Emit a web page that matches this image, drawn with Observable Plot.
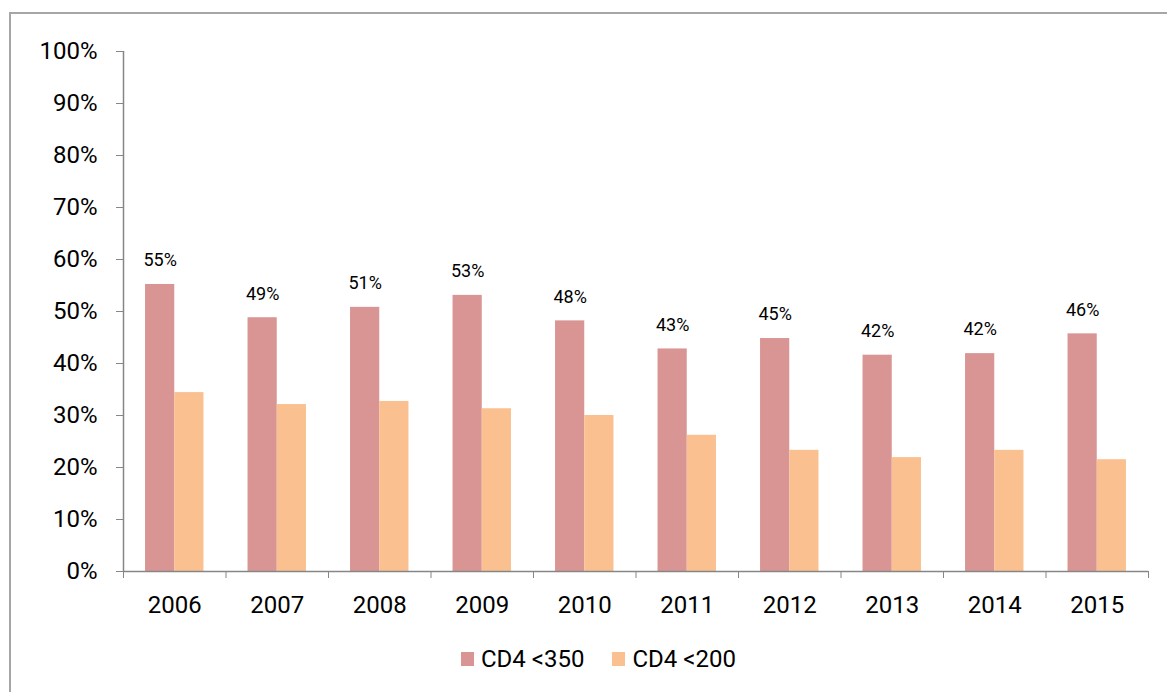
<!DOCTYPE html>
<html>
<head>
<meta charset="utf-8">
<script src="https://cdn.jsdelivr.net/npm/d3@7"></script>
<script src="https://cdn.jsdelivr.net/npm/@observablehq/plot@0.6"></script>
<style>
  html, body { margin: 0; padding: 0; background: #fff; overflow: hidden; width: 1167px; height: 692px; }
  body { font-family: Roboto, sans-serif; position: relative; }
  #frame { position: absolute; left: 9px; top: 12px; width: 1200px; height: 720px;
           border-top: 2px solid #a6a6a6; border-left: 2px solid #a6a6a6; box-sizing: border-box; }
  #chart { position: absolute; left: 0; top: 0; }
  #legend { position: absolute; top: 645px; left: 461px; display: flex; align-items: center;
            font-size: 24px; color: #000; white-space: nowrap; }
  .item { display: flex; align-items: center; margin-right: 28px; }
  .sw { width: 13px; height: 14px; margin-right: 7px; display: inline-block; }
</style>
</head>
<body>
<div id="frame"></div>
<div id="chart"></div>
<div id="legend"></div>
<script>
const years = [2006, 2007, 2008, 2009, 2010, 2011, 2012, 2013, 2014, 2015];
const seriesNames = ["CD4 <350", "CD4 <200"];
const cd4_350 = [55.2, 48.8, 50.8, 53.1, 48.2, 42.8, 44.8, 41.6, 41.9, 45.7];
const cd4_200 = [34.4, 32.1, 32.7, 31.3, 30.0, 26.2, 23.3, 21.9, 23.3, 21.5];
const colors = ["#D99594", "#FAC090"];
const yTicks = [0, 10, 20, 30, 40, 50, 60, 70, 80, 90, 100];

const barW = 0.285; // fraction of a category band
const axisColor = "#868686";

const rows350 = years.map((y, i) => ({year: y, value: cd4_350[i]}));
const rows200 = years.map((y, i) => ({year: y, value: cd4_200[i]}));
const xDomain = [years[0] - 0.5, years[years.length - 1] + 0.5];
const boundaries = d3.range(xDomain[0], xDomain[1] + 0.01, 1);

const chart = Plot.plot({
  width: 1167,
  height: 630,
  marginLeft: 123,
  marginRight: 19,
  marginTop: 51,
  marginBottom: 59,
  style: {fontFamily: "Roboto, sans-serif", background: "transparent"},
  x: {domain: xDomain, axis: null},
  y: {domain: [0, 100], axis: null},
  marks: [
    Plot.rectY(rows350, {x1: d => d.year - barW, x2: d => d.year, y: "value", fill: colors[0]}),
    Plot.rectY(rows200, {x1: d => d.year, x2: d => d.year + barW, y: "value", fill: colors[1]}),
    Plot.text(rows350, {x: d => d.year - barW / 2, y: "value", text: d => Math.round(d.value) + "%",
      dy: -24, fontSize: 18, fill: "#000"}),
    Plot.ruleX([xDomain[0]], {y1: 0, y2: 100, stroke: axisColor, strokeWidth: 1.5}),
    Plot.ruleY([0], {stroke: axisColor, strokeWidth: 1.5}),
    Plot.axisY({ticks: yTicks, tickFormat: d => d + "%", tickSize: 7, tickPadding: 19,
      fontSize: 24, stroke: axisColor, color: "#000", label: null}),
    Plot.axisX({ticks: boundaries, tickFormat: () => "", tickSize: 7, stroke: axisColor, label: null}),
    Plot.axisX({ticks: years, tickFormat: d => String(d), tickSize: 0, tickPadding: 24,
      fontSize: 24, color: "#000", label: null})
  ]
});
document.getElementById("chart").appendChild(chart);

const legend = document.getElementById("legend");
seriesNames.forEach((name, i) => {
  const item = document.createElement("div");
  item.className = "item";
  const sw = document.createElement("span");
  sw.className = "sw";
  sw.style.background = colors[i];
  const label = document.createElement("span");
  label.textContent = name;
  item.appendChild(sw);
  item.appendChild(label);
  legend.appendChild(item);
});
</script>
</body>
</html>
